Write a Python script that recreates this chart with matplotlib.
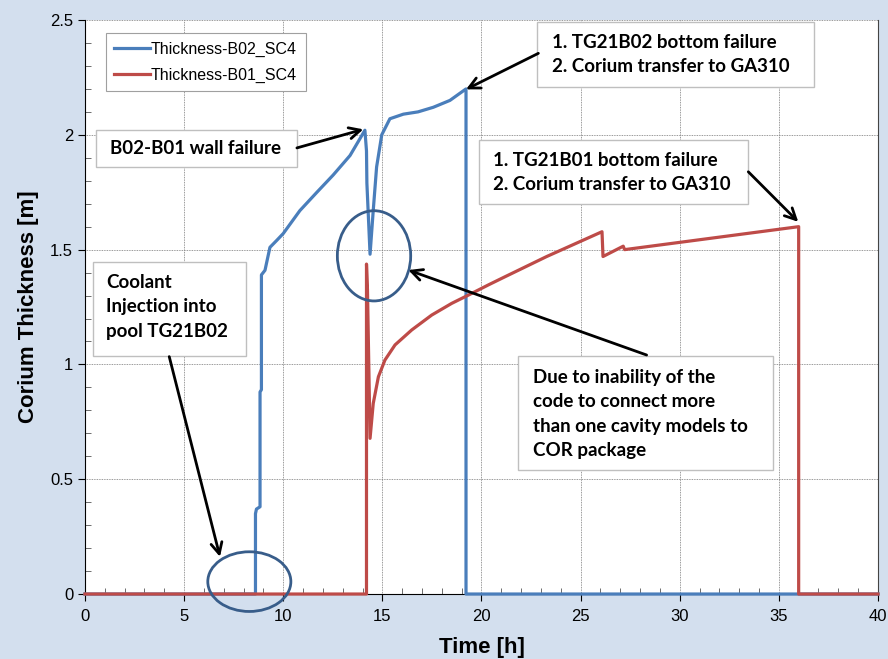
import matplotlib
matplotlib.use('Agg')
import matplotlib.pyplot as plt
from matplotlib.patches import Ellipse, Rectangle
from matplotlib.ticker import MultipleLocator

b02_time = [0, 8.6, 8.6, 8.65, 8.83, 8.83, 8.9, 8.9, 9.08, 9.33, 9.67, 10.0, 10.84,
            11.7, 12.52, 13.37, 14.12, 14.2, 14.22, 14.38, 14.54, 14.71, 14.97, 15.38,
            16.06, 16.8, 17.57, 18.41, 19.22, 19.22, 40]
b02_thk = [0, 0, 0.35, 0.37, 0.38, 0.88, 0.89, 1.39, 1.41, 1.51, 1.54, 1.57, 1.67,
           1.75, 1.825, 1.91, 2.02, 1.93, 1.79, 1.48, 1.67, 1.86, 2.0, 2.07,
           2.09, 2.10, 2.12, 2.15, 2.20, 0, 0]

b01_time = [0, 14.2, 14.2, 14.25, 14.38, 14.54, 14.8, 15.13, 15.64, 16.48, 17.49,
            18.5, 19.34, 20.34, 21.19, 23.29, 26.08, 26.13, 27.15, 27.22, 36.0, 36.0, 40]
b01_thk = [0, 0, 1.437, 1.324, 0.678, 0.83, 0.946, 1.019, 1.085, 1.15, 1.215,
           1.266, 1.302, 1.346, 1.382, 1.47, 1.578, 1.47, 1.515, 1.50, 1.60, 0, 0]

labels = ['Thickness-B02_SC4', 'Thickness-B01_SC4']

notes = ['B02-B01 wall failure',
         '1. TG21B02 bottom failure\n2. Corium transfer to GA310',
         '1. TG21B01 bottom failure\n2. Corium transfer to GA310',
         'Coolant\nInjection into\npool TG21B02',
         'Due to inability of the\ncode to connect more\nthan one cavity models to\nCOR package']
# box (x0, y0, x1, y1), text anchor, arrow start, arrow tip -- data units
note_box = [(0.55, 1.861, 10.68, 2.021), (22.81, 2.207, 36.77, 2.493),
            (19.89, 1.699, 33.43, 1.977), (0.39, 1.037, 8.12, 1.447),
            (21.86, 0.540, 34.69, 1.037)]
note_txt = [(1.26, 1.94), (23.54, 2.35), (20.57, 1.836), (1.06, 1.251), (22.58, 0.784)]
arr_from = [(10.69, 1.943), (22.87, 2.355), (33.46, 1.839), (4.25, 1.034), (28.33, 1.041)]
arr_to = [(14.04, 2.024), (19.22, 2.198), (35.98, 1.621), (6.81, 0.162), (16.31, 1.411)]

circles = [(8.29, 0.054, 4.19, 0.26), (14.58, 1.473, 3.70, 0.393)]

blue = '#4A7EBB'
red = '#BE4B48'

plt.rcParams['font.family'] = ['Liberation Sans', 'DejaVu Sans']

fig = plt.figure(figsize=(8.88, 6.59), dpi=100, facecolor='#D3DFEE')
ax = fig.add_axes([0.0957, 0.0986, 0.893, 0.871])

ax.plot(b02_time, b02_thk, color=blue, lw=2.3, label=labels[0], zorder=3, clip_on=False)
ax.plot(b01_time, b01_thk, color=red, lw=2.3, label=labels[1], zorder=4, clip_on=False)

ax.set_xlim(0, 40)
ax.set_ylim(0, 2.5)
ax.xaxis.set_major_locator(MultipleLocator(5))
ax.xaxis.set_minor_locator(MultipleLocator(1))
ax.yaxis.set_major_locator(MultipleLocator(0.5))
ax.yaxis.set_minor_locator(MultipleLocator(0.1))
ax.set_yticks([0, 0.5, 1, 1.5, 2, 2.5], ['0', '0.5', '1', '1.5', '2', '2.5'])
ax.tick_params(which='major', direction='out', length=5, labelsize=12, width=0.8)
ax.tick_params(axis='x', which='major', pad=6)
ax.tick_params(which='minor', direction='in', length=4, width=0.6, color='#555555')
ax.grid(True, which='major', color='#777777', ls=(0, (1, 1)), lw=0.6)
ax.spines['top'].set_visible(False)
ax.spines['right'].set_color('#444444')
ax.spines['right'].set_linewidth(0.8)

ax.set_xlabel('Time [h]', fontsize=16, fontweight='bold', labelpad=9)
ax.set_ylabel('Corium Thickness [m]', fontsize=16, fontweight='bold', labelpad=8)

leg = ax.legend(loc='upper left', bbox_to_anchor=(0.026, 0.977), borderaxespad=0,
                fontsize=11.5, fancybox=False, edgecolor='#A0A0A0', framealpha=1,
                handlelength=2.2, handletextpad=0.1, borderpad=0.55, labelspacing=0.65)
leg.get_frame().set_linewidth(0.8)

for (cx, cy, w, h) in circles:
    ax.add_patch(Ellipse((cx, cy), w, h, fill=False, ec='#385D8A', lw=2.0,
                         clip_on=False, zorder=6))

for i, txt in enumerate(notes):
    x0, y0, x1, y1 = note_box[i]
    ax.add_patch(Rectangle((x0, y0), x1 - x0, y1 - y0, fc='white', ec='#BFBFBF',
                           lw=1.0, zorder=7))
    ax.text(note_txt[i][0], note_txt[i][1], txt, family=['Lato', 'DejaVu Sans'],
            fontsize=13.5, fontweight='bold', va='center', ha='left',
            linespacing=1.53, zorder=8)
    ax.annotate('', xy=arr_to[i], xytext=arr_from[i],
                arrowprops=dict(arrowstyle='->', color='black', lw=2.0,
                                mutation_scale=20, shrinkA=0, shrinkB=0),
                annotation_clip=False, zorder=9)

fig.savefig('out.png', dpi=100, facecolor=fig.get_facecolor())
